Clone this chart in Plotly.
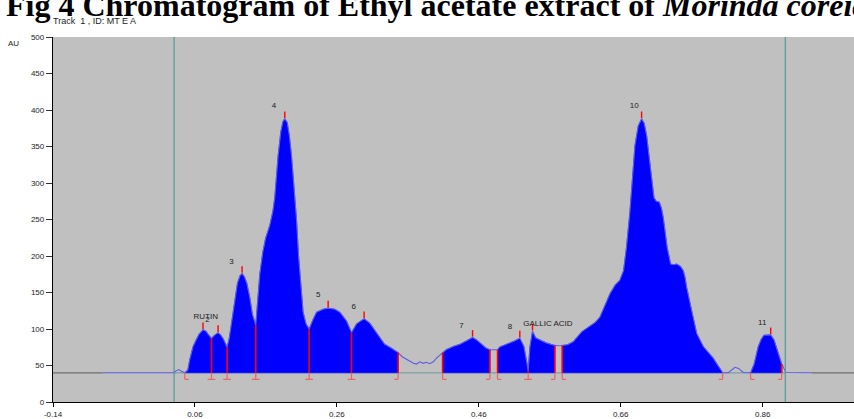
import numpy as np
import plotly.graph_objects as go

# ---------------- data ----------------
curve_x = [-0.070, 0.030, 0.034, 0.0376, 0.041, 0.0445, 0.0457, 0.050, 0.0527, 0.0574, 0.062, 0.066,
           0.0714, 0.0755, 0.0785, 0.0833, 0.087, 0.0926, 0.0960, 0.0996, 0.1025, 0.1053,
           0.1085, 0.1120, 0.1161, 0.1200, 0.1235, 0.1264, 0.1295, 0.1330, 0.1373, 0.1410, 0.1457,
           0.1486, 0.1514, 0.1556, 0.1598, 0.1655, 0.1700, 0.1725, 0.1772, 0.1810, 0.1840, 0.1866,
           0.1900, 0.1930, 0.1961, 0.1995, 0.2031, 0.2060, 0.2088, 0.2124, 0.2165, 0.2209,
           0.2260, 0.2313, 0.2406, 0.2477, 0.2571, 0.2641, 0.2736, 0.2806,
           0.2877, 0.2984, 0.3064, 0.3159, 0.3270, 0.3370, 0.3463,
           0.3520, 0.3628, 0.3680, 0.3723, 0.3770, 0.3816, 0.3860, 0.3910, 0.3960, 0.4004, 0.4050, 0.4090,
           0.4146, 0.4240, 0.4333, 0.4430, 0.4512, 0.4570, 0.4639, 0.4700, 0.4756,
           0.4810, 0.4864, 0.4896, 0.4966, 0.5037, 0.5110, 0.5178, 0.5235, 0.5275, 0.5296,
           0.5320, 0.5357, 0.5400, 0.5460, 0.5550, 0.5648, 0.5672, 0.5720, 0.5775,
           0.5850, 0.5930, 0.5990, 0.6049, 0.6166, 0.6240, 0.6306, 0.6376, 0.6447, 0.6520, 0.6588,
           0.6640, 0.6680, 0.6730, 0.6770, 0.6800, 0.6846, 0.6894, 0.6930, 0.6965, 0.6995, 0.7021,
           0.7068, 0.7100, 0.7143, 0.7175, 0.7200, 0.7255, 0.7303, 0.7345, 0.7388, 0.7440, 0.7481,
           0.7505, 0.7529, 0.7600, 0.7670, 0.7763, 0.7840, 0.7904, 0.7970, 0.8036,
           0.8115, 0.8165, 0.8210, 0.8260, 0.8327, 0.8430,
           0.8480, 0.8538, 0.8580, 0.8618, 0.8670, 0.8713, 0.8760, 0.8820, 0.8868, 0.8929, 0.9290]
curve_y = [40, 40, 43, 44.5, 42, 40, 40, 44, 58, 76, 86, 93,
           99, 97, 93, 87, 91, 95, 92, 87, 81, 75,
           88, 112, 143, 163, 173, 176, 172, 163, 143, 120, 105,
           140, 175, 205, 225, 242, 262, 280, 337, 370, 384, 388,
           383, 365, 337, 295, 250, 200, 160, 123, 107, 100,
           112, 123, 127, 128.6, 127, 123, 111, 95,
           107, 114, 108, 94, 79.4, 73.7, 67.7,
           62, 56, 53, 52, 55, 53, 54.5, 52.5, 55, 60, 64, 67.5,
           72, 76, 79, 84, 88.5, 85, 79, 74, 71.5,
           71, 71.5, 75.5, 78, 80.5, 84, 87.5, 76, 55, 42,
           75, 97, 88, 85, 81, 78, 77.5, 77, 77.5,
           78.5, 82.5, 90, 96, 104, 109, 116, 132, 148, 160, 167,
           180, 211, 261, 310, 351, 378, 388, 382, 365, 340, 315,
           280, 275, 274, 265, 252, 211, 189, 188, 189, 186, 180,
           171, 157, 125, 94, 76, 68, 60, 50, 40.5,
           40, 44.5, 47.5, 46, 40.5, 40,
           52, 76, 86, 91.5, 92, 92, 85, 67, 52, 40.5, 40]

baseline_value = 40
seg_starts = [0.0457, 0.4090, 0.4864, 0.5775, 0.8430]
seg_ends = [0.3463, 0.4756, 0.5672, 0.8036, 0.8868]

boundary_x = [0.0457, 0.0833, 0.1053, 0.1457, 0.2209, 0.2806, 0.3463, 0.4090, 0.4756,
              0.4864, 0.5296, 0.5672, 0.5775, 0.8036, 0.8430, 0.8868]
boundary_kind = ["start", "both", "both", "both", "both", "both", "end", "start", "end",
                 "start", "both", "end", "start", "end", "start", "end"]

apex_x = [0.0714, 0.0926, 0.1264, 0.1866, 0.2477, 0.2984, 0.4512, 0.5178, 0.5357, 0.6894, 0.8713]

label_text = ["RUTIN", "2", "3", "4", "5", "6", "7", "8", "GALLIC ACID", "10", "11"]
label_x = [0.0752, 0.0777, 0.1115, 0.1715, 0.2336, 0.2839, 0.4357, 0.5038, 0.5574, 0.6790, 0.8594]
label_y = [117, 112, 192, 405, 146, 130, 104, 103, 106.5, 405, 108.7]

marker_lines_x = [0.0306, 0.8919]
left_flat_x = [-0.14, -0.070]
right_flat_x = [0.929, 0.99]

x_ticks = [-0.14, 0.06, 0.26, 0.46, 0.66, 0.86]
y_ticks = [0, 50, 100, 150, 200, 250, 300, 350, 400, 450, 500]

# ---------------- figure ----------------
cx = np.array(curve_x)
cy = np.array(curve_y)
fig = go.Figure()

# teal baseline under the peaks
fig.add_trace(go.Scatter(x=[marker_lines_x[0], marker_lines_x[1]], y=[baseline_value] * 2,
                         mode="lines", line=dict(color="#7f9fa3", width=1.2),
                         hoverinfo="skip", showlegend=False))

# filled integration segments
for s, e in zip(seg_starts, seg_ends):
    m = (cx > s) & (cx < e)
    xs = [s] + list(cx[m]) + [e]
    ys = [float(np.interp(s, cx, cy))] + list(cy[m]) + [float(np.interp(e, cx, cy))]
    px = xs + [e, s]
    py = ys + [baseline_value, baseline_value]
    fig.add_trace(go.Scatter(x=px, y=py, mode="lines", fill="toself", fillcolor="#0000ff",
                             line=dict(color="#0000ff", width=0.5), hoverinfo="skip",
                             showlegend=False))

# signal line
fig.add_trace(go.Scatter(x=curve_x, y=curve_y, mode="lines",
                         line=dict(color="#5a5ae6", width=1.1), hoverinfo="skip", showlegend=False))
# flat grey baseline ends
for fx in (left_flat_x, right_flat_x):
    fig.add_trace(go.Scatter(x=fx, y=[baseline_value] * 2, mode="lines",
                             line=dict(color="#6e6e6e", width=1.3), hoverinfo="skip",
                             showlegend=False))

# drop lines (from curve down to baseline)
dx, dy = [], []
for bx in boundary_x:
    v = float(np.interp(bx, cx, cy))
    if v > baseline_value + 1:
        dx += [bx, bx, None]
        dy += [v, baseline_value, None]
fig.add_trace(go.Scatter(x=dx, y=dy, mode="lines", line=dict(color="#ff0000", width=1.6),
                         hoverinfo="skip", showlegend=False))

# feet below baseline
foot_len = 0.0055
foot_y = 31
fx_, fy_ = [], []
for bx, k in zip(boundary_x, boundary_kind):
    fx_ += [bx, bx, None]
    fy_ += [baseline_value, foot_y, None]
    left = bx - foot_len if k in ("end", "both") else bx
    right = bx + foot_len if k in ("start", "both") else bx
    fx_ += [left, right, None]
    fy_ += [foot_y, foot_y, None]
fig.add_trace(go.Scatter(x=fx_, y=fy_, mode="lines", line=dict(color="#f06262", width=1.2),
                         hoverinfo="skip", showlegend=False))

# apex ticks
ax_, ay_ = [], []
for a in apex_x:
    v = float(np.interp(a, cx, cy))
    ax_ += [a, a, None]
    ay_ += [v + 1, v + 10, None]
fig.add_trace(go.Scatter(x=ax_, y=ay_, mode="lines", line=dict(color="#ff0000", width=1.4),
                         hoverinfo="skip", showlegend=False))

# peak labels
fig.add_trace(go.Scatter(x=label_x, y=label_y, mode="text", text=label_text,
                         textfont=dict(family="Liberation Sans, Arial", size=8, color="#222222"),
                         hoverinfo="skip", showlegend=False))

shapes = []
for mx in marker_lines_x:
    shapes.append(dict(type="line", xref="x", yref="paper", x0=mx, x1=mx, y0=0, y1=1,
                       line=dict(color="#4f9a9a", width=1.2), layer="above"))

annotations = [
    dict(text="<b>Fig 4 Chromatogram of Ethyl acetate extract of <i>Morinda coreia</i></b>",
         xref="paper", yref="paper", x=-0.0615, y=1.088, xanchor="left", yanchor="middle",
         showarrow=False, font=dict(family="Liberation Serif, Times New Roman", size=32,
                                    color="#000000")),
    dict(text="Track  1 , ID: MT E A", xref="paper", yref="paper", x=-0.002, y=1.045,
         xanchor="left", yanchor="middle", showarrow=False,
         font=dict(family="Liberation Sans, Arial", size=9, color="#222222")),
    dict(text="AU", xref="paper", yref="paper", x=-0.049, y=0.981, xanchor="center",
         yanchor="middle", showarrow=False,
         font=dict(family="Liberation Sans, Arial", size=8, color="#222222")),
]

fig.update_layout(
    width=854, height=419,
    margin=dict(l=53, r=0, t=37, b=13, pad=0),
    paper_bgcolor="#ffffff", plot_bgcolor="#c0c0c0",
    showlegend=False, shapes=shapes, annotations=annotations,
    xaxis=dict(range=[-0.14, 0.9887], tickvals=x_ticks, ticktext=[f"{v:.2f}" for v in x_ticks],
               showgrid=False, zeroline=False, showline=True, linecolor="#000000", linewidth=1.3,
               ticks="outside", ticklen=4, tickcolor="#000000", tickwidth=1,
               tickfont=dict(family="Liberation Sans, Arial", size=8, color="#222222")),
    yaxis=dict(range=[0, 500], tickvals=y_ticks, showgrid=False, zeroline=False, showline=True,
               linecolor="#000000", linewidth=1.3, ticks="outside", ticklen=6,
               tickcolor="#333333", tickwidth=1,
               tickfont=dict(family="Liberation Sans, Arial", size=8, color="#222222")),
)

fig.write_html("out.html", config={"displayModeBar": False},
               post_script="document.body.style.margin='0';document.body.style.overflow='hidden';")
